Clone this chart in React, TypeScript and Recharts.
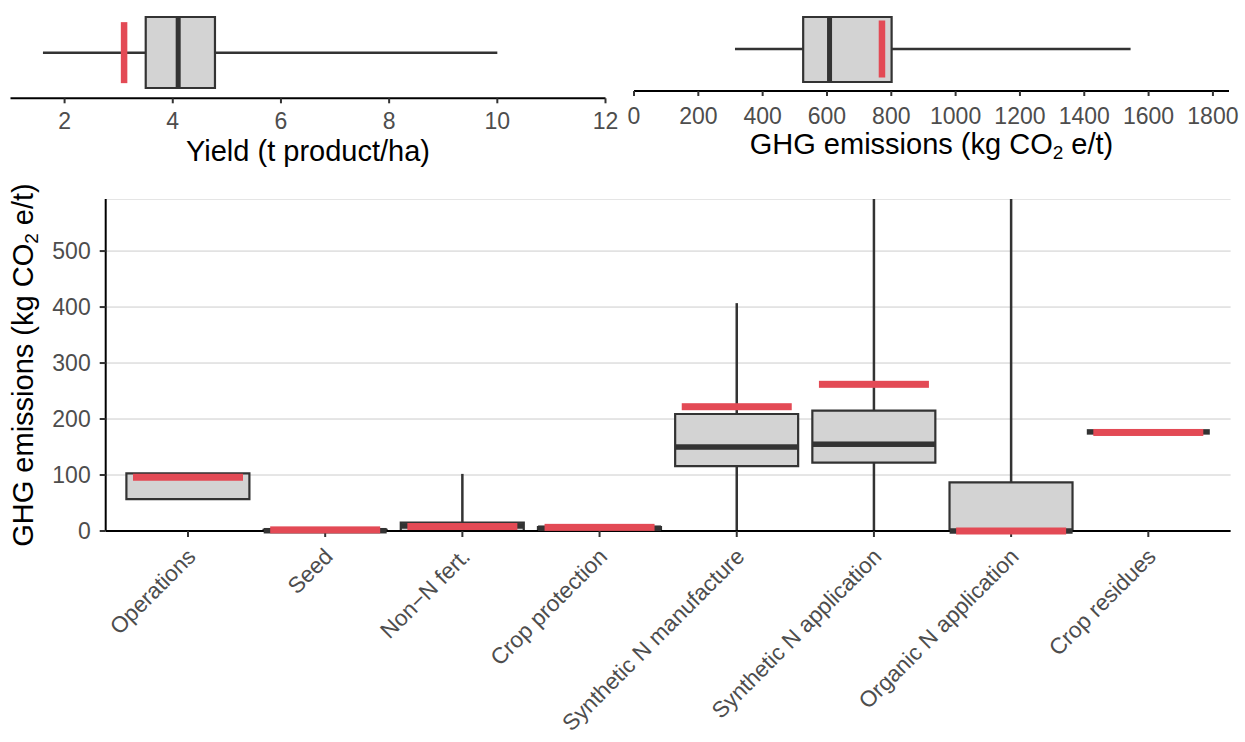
import {
  Bar,
  CartesianGrid,
  ComposedChart,
  ErrorBar,
  Scatter,
  XAxis,
  YAxis,
} from "recharts";

const FONT = '"Liberation Sans", Arial, Helvetica, sans-serif';
const INK = "#333333";
const BOX_FILL = "#d3d3d3";
const TARGET_RED = "#e34a55";
const TICK_GREY = "#4d4d4d";

// Yield (t product/ha): whisker low, lower hinge, median, upper hinge, whisker high
const yieldStats = [1.6, 3.5, 4.1, 4.78, 10];
const yieldTarget = 3.1;
const yieldTicks = [2, 4, 6, 8, 10, 12];

// Total GHG emissions (kg CO2 e/t)
const totalStats = [314, 526, 608, 801, 1544];
const totalTarget = 771;
const totalTicks = [0, 200, 400, 600, 800, 1000, 1200, 1400, 1600, 1800];

// Emission sources
const categories = [
  "Operations",
  "Seed",
  "Non\u2212N fert.",
  "Crop protection",
  "Synthetic N manufacture",
  "Synthetic N application",
  "Organic N application",
  "Crop residues",
];
const whiskerLow = [57, 0, 0, 0, 0, 0, 0, 177];
const hingeLow = [57, 0, 0, 0, 116, 122, 0, 177];
const medians = [null, 0.5, 9, 5, 150, 155, 0, 177];
const hingeHigh = [103, 2, 15, 7, 209, 215, 87, 177];
const whiskerHigh = [103, 2, 102, 7, 407, 950, 1100, 177];
const targetValues = [96, 2, 8, 6.5, 222, 262, 0, 176];
const emissionTicks = [0, 100, 200, 300, 400, 500];

type Row = {
  name: string;
  box: [number, number];
  q1: number;
  q3: number;
  med: number | null;
  target: number;
  lowerErr: [number, number];
  upperErr: [number, number];
};

function toRow(
  name: string,
  lo: number,
  q1: number,
  med: number | null,
  q3: number,
  hi: number,
  target: number
): Row {
  return {
    name,
    box: [q1, q3],
    q1,
    q3,
    med,
    target,
    lowerErr: [q1 - lo, 0],
    upperErr: [0, hi - q3],
  };
}

const yieldRows = [
  toRow("Yield", yieldStats[0], yieldStats[1], yieldStats[2], yieldStats[3], yieldStats[4], yieldTarget),
];
const totalRows = [
  toRow("Total", totalStats[0], totalStats[1], totalStats[2], totalStats[3], totalStats[4], totalTarget),
];
const sourceRows = categories.map((name, i) =>
  toRow(name, whiskerLow[i], hingeLow[i], medians[i], hingeHigh[i], whiskerHigh[i], targetValues[i])
);

const TICK_SIZE = 23;
const WHISKER_W = 2.5;
const axisLineStyle = { stroke: "#000000", strokeWidth: 2 };
const tickLineStyle = { stroke: INK, strokeWidth: 2 };

const noPoint = () => <g />;

// a filled bar centred on the scatter point
function segment(w: number, h: number, fill: string, key: "med" | "target") {
  return (props: any) => {
    const { cx, cy, payload } = props;
    if (cx == null || cy == null || payload?.[key] == null) return <g />;
    return <rect x={cx - w / 2} y={cy - h / 2} width={w} height={h} fill={fill} />;
  };
}

function BottomValueTick(props: any) {
  const { x, y, payload } = props;
  return (
    <text x={x} y={y} dy="0.72em" textAnchor="middle" fill={TICK_GREY} fontSize={TICK_SIZE} fontFamily={FONT}>
      {payload?.value}
    </text>
  );
}

function LeftValueTick(props: any) {
  const { x, y, payload } = props;
  return (
    <text x={x} y={y} dy="0.36em" textAnchor="end" fill={TICK_GREY} fontSize={TICK_SIZE} fontFamily={FONT}>
      {payload?.value}
    </text>
  );
}

function CategoryTick(props: any) {
  const { x, y, payload } = props;
  const tx = x + 9;
  const ty = y + 19;
  return (
    <text
      x={tx}
      y={ty}
      transform={`rotate(-45 ${tx} ${ty})`}
      textAnchor="end"
      fill={TICK_GREY}
      fontSize={22.5}
      fontFamily={FONT}
    >
      {payload?.value}
    </text>
  );
}

function GhgTitle({ x, y, rotate = 0 }: { x: number; y: number; rotate?: number }) {
  return (
    <text
      x={x}
      y={y}
      transform={rotate ? `rotate(${rotate} ${x} ${y})` : undefined}
      textAnchor="middle"
      fill="#000"
      fontSize={29}
      fontFamily={FONT}
    >
      GHG emissions (kg CO
      <tspan fontSize={19} dy={5}>
        2
      </tspan>
      <tspan dy={-5}> e/t)</tspan>
    </text>
  );
}

type HorizontalBoxProps = {
  rows: Row[];
  width: number;
  height: number;
  margin: { top: number; right: number; bottom: number; left: number };
  axisHeight: number;
  domain: [number, number];
  ticks: number[];
  tickMargin: number;
  boxSize: number;
  targetSize: number;
};

function HorizontalBox({
  rows,
  width,
  height,
  margin,
  axisHeight,
  domain,
  ticks,
  tickMargin,
  boxSize,
  targetSize,
}: HorizontalBoxProps) {
  return (
    <ComposedChart layout="vertical" width={width} height={height} data={rows} margin={margin}>
      <XAxis
        type="number"
        domain={domain}
        ticks={ticks}
        interval={0}
        height={axisHeight}
        tickSize={5}
        tickMargin={tickMargin}
        axisLine={axisLineStyle}
        tickLine={tickLineStyle}
        tick={<BottomValueTick />}
      />
      <YAxis type="category" dataKey="name" width={0} tick={false} tickLine={false} axisLine={axisLineStyle} />
      <Scatter dataKey="q1" shape={noPoint} isAnimationActive={false}>
        <ErrorBar dataKey="lowerErr" direction="x" width={0} stroke={INK} strokeWidth={WHISKER_W} isAnimationActive={false} />
      </Scatter>
      <Scatter dataKey="q3" shape={noPoint} isAnimationActive={false}>
        <ErrorBar dataKey="upperErr" direction="x" width={0} stroke={INK} strokeWidth={WHISKER_W} isAnimationActive={false} />
      </Scatter>
      <Bar dataKey="box" barSize={boxSize} fill={BOX_FILL} stroke={INK} strokeWidth={2.2} isAnimationActive={false} />
      <Scatter dataKey="med" shape={segment(5, boxSize, INK, "med")} isAnimationActive={false} />
      <Scatter dataKey="target" shape={segment(6.5, targetSize, TARGET_RED, "target")} isAnimationActive={false} />
    </ComposedChart>
  );
}

export default function App() {
  return (
    <div
      style={{
        position: "absolute",
        left: 0,
        top: 0,
        width: 1245,
        height: 742,
        background: "#ffffff",
        overflow: "hidden",
      }}
    >
      <div style={{ position: "absolute", left: 0, top: 0 }}>
        <HorizontalBox
          rows={yieldRows}
          width={620}
          height={175}
          margin={{ top: 7, right: 14.5, bottom: 0, left: 10.5 }}
          axisHeight={76.7}
          domain={[1, 12]}
          ticks={yieldTicks}
          tickMargin={9}
          boxSize={71}
          targetSize={61}
        />
      </div>
      <div style={{ position: "absolute", left: 620, top: 0 }}>
        <HorizontalBox
          rows={totalRows}
          width={625}
          height={175}
          margin={{ top: 7, right: 16, bottom: 0, left: 14 }}
          axisHeight={84}
          domain={[0, 1850]}
          ticks={totalTicks}
          tickMargin={11.5}
          boxSize={65}
          targetSize={57}
        />
      </div>
      {/* the svg edge at the panel top trims the long upper whiskers */}
      <div style={{ position: "absolute", left: 0, top: 199 }}>
        <ComposedChart
          width={1245}
          height={543}
          data={sourceRows}
          margin={{ top: 0, right: 14.4, bottom: 0, left: 0 }}
        >
          <CartesianGrid vertical={false} stroke="#cccccc" strokeWidth={1} />
          <XAxis
            dataKey="name"
            type="category"
            interval={0}
            height={211}
            padding={{ left: 13.7, right: 13.7 }}
            tickSize={6}
            tickMargin={2}
            axisLine={axisLineStyle}
            tickLine={tickLineStyle}
            tick={<CategoryTick />}
          />
          <YAxis
            type="number"
            domain={[0, 593]}
            ticks={emissionTicks}
            interval={0}
            width={105.7}
            tickSize={6}
            tickMargin={9}
            axisLine={axisLineStyle}
            tickLine={tickLineStyle}
            tick={<LeftValueTick />}
          />
          <YAxis yAxisId="w" hide domain={[0, 593]} allowDataOverflow />
          <Scatter dataKey="q1" shape={noPoint} isAnimationActive={false}>
            <ErrorBar dataKey="lowerErr" direction="y" width={0} stroke={INK} strokeWidth={WHISKER_W} isAnimationActive={false} />
          </Scatter>
          <Scatter dataKey="q3" yAxisId="w" shape={noPoint} isAnimationActive={false}>
            <ErrorBar dataKey="upperErr" direction="y" width={0} stroke={INK} strokeWidth={WHISKER_W} isAnimationActive={false} />
          </Scatter>
          <Bar dataKey="box" barSize={123} fill={BOX_FILL} stroke={INK} strokeWidth={2.2} isAnimationActive={false} />
          <Scatter dataKey="med" shape={segment(123, 5.5, INK, "med")} isAnimationActive={false} />
          <Scatter dataKey="target" shape={segment(110, 7, TARGET_RED, "target")} isAnimationActive={false} />
        </ComposedChart>
      </div>
      {/* axis titles */}
      <svg
        width={1245}
        height={742}
        style={{ position: "absolute", left: 0, top: 0, pointerEvents: "none" }}
      >
        <text x={308} y={161} textAnchor="middle" fill="#000" fontSize={29} fontFamily={FONT}>
          Yield (t product/ha)
        </text>
        <GhgTitle x={931.5} y={153.5} />
        <GhgTitle x={33} y={365} rotate={-90} />
      </svg>
    </div>
  );
}
